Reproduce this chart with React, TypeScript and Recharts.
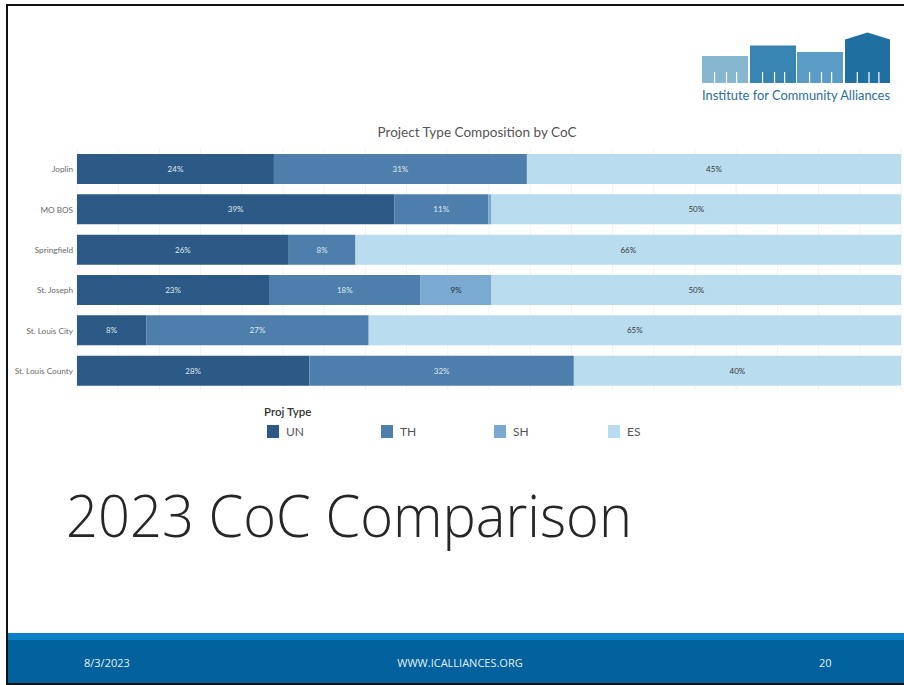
import React from "react";
import { BarChart, Bar, XAxis, YAxis, CartesianGrid, LabelList } from "recharts";

// Continuum of Care regions shown as rows
const COCS = ["Joplin", "MO BOS", "Springfield", "St. Joseph", "St. Louis City", "St. Louis County"];

// Share of projects by type (percent of each CoC's total)
const UN = [23.9, 38.5, 25.7, 23.3, 8.4, 28.2];
const TH = [30.7, 11.4, 8.1, 18.4, 27.0, 32.1];
const SH = [0, 0.4, 0, 8.6, 0, 0];
const ES = [45.4, 49.7, 66.2, 49.7, 64.6, 39.7];

const SERIES_KEYS = ["UN", "TH", "SH", "ES"];
const SERIES_COLORS = ["#2c5985", "#4e7fac", "#7aaad2", "#b9dcef"];
const LABEL_COLORS = ["#dfe7f0", "#dfe7f0", "#2a2a2a", "#3a3a3a"];

const GRID_TICKS = [0, 5, 10, 15, 20, 25, 30, 35, 40, 45, 50, 55, 60, 65, 70, 75, 80, 85, 90, 95, 100];

const data = COCS.map((coc, i) => ({ coc, UN: UN[i], TH: TH[i], SH: SH[i], ES: ES[i] }));

const chartFont = "Lato, 'Open Sans', sans-serif";

const makeLabel = (color: string) => (props: any) => {
  const { x, y, width, height, value } = props;
  if (!value || width < 14) return null;
  return (
    <text
      x={x + width / 2}
      y={y + height / 2}
      textAnchor="middle"
      dominantBaseline="central"
      fontSize={8}
      fontFamily={chartFont}
      fill={color}
    >
      {Math.round(value)}%
    </text>
  );
};

const CategoryTick = (props: any) => {
  const { y, payload } = props;
  return (
    <text x={73} y={y} textAnchor="end" dominantBaseline="central" fontSize={8.2} fontFamily={chartFont} fill="#6a6a6a">
      {payload.value}
    </text>
  );
};

// Logo buildings: [x, width, top, colour]
const BUILDINGS: [number, number, number, string][] = [
  [702, 46, 56, "#86b6d0"],
  [750, 46, 45.5, "#3784b2"],
  [797, 46, 52, "#5a9cc5"],
  [845, 45, 39.5, "#1f6fa1"],
];

function Logo() {
  return (
    <g>
      {BUILDINGS.map(([x, w, top, c], i) => (
        <g key={i}>
          {i === 3 ? (
            <polygon points={`${x},${top} ${x + w / 2},${32.5} ${x + w},${top} ${x + w},83 ${x},83`} fill={c} />
          ) : (
            <rect x={x} y={top} width={w} height={83 - top} fill={c} />
          )}
          {[0.26, 0.52, 0.74].map((f, j) => (
            <rect key={j} x={x + w * f} y={72} width={1.2} height={11} fill="#ffffff" />
          ))}
        </g>
      ))}
      <text
        x={702}
        y={100}
        fontSize={12.5}
        fontFamily="Lato, sans-serif"
        fill="#2b6e9c"
        textLength={188}
        lengthAdjust="spacingAndGlyphs"
      >
        Institute for Community Alliances
      </text>
    </g>
  );
}

function Legend() {
  const xs = [267, 381, 494, 608];
  return (
    <g fontFamily={chartFont}>
      <text x={264} y={416} fontSize={11.5} fill="#333" fontWeight={600}>
        Proj Type
      </text>
      {SERIES_KEYS.map((k, i) => (
        <g key={k}>
          <rect x={xs[i]} y={425} width={12} height={13} fill={SERIES_COLORS[i]} />
          <text x={xs[i] + 19} y={436} fontSize={12} fill="#555">
            {k}
          </text>
        </g>
      ))}
    </g>
  );
}

export default function App() {
  return (
    <div style={{ position: "absolute", left: 0, top: 0, width: 904, height: 685, background: "#fff", overflow: "hidden" }}>
      <svg width={904} height={685} style={{ position: "absolute", left: 0, top: 0 }}>
        {/* slide frame */}
        <rect x={6} y={4} width={904} height={2} fill="#111" />
        <rect x={6} y={4} width={2} height={685} fill="#111" />
        <Logo />
        <text x={477} y={137} textAnchor="middle" fontSize={12.5} fontFamily={chartFont} fill="#555" textLength={199} lengthAdjust="spacingAndGlyphs">
          Project Type Composition by CoC
        </text>
        <Legend />
        <text x={66} y={537} fontSize={58} fontWeight={300} fontFamily="'Open Sans', sans-serif" fill="#262626" textLength={566} lengthAdjust="spacingAndGlyphs">
          2023 CoC Comparison
        </text>
        {/* footer band */}
        <rect x={8} y={633} width={904} height={8} fill="#0a7fc4" />
        <rect x={8} y={640} width={904} height={43} fill="#00619c" />
        <rect x={6} y={683} width={904} height={2} fill="#111" />
        <g fontFamily="'Liberation Sans Narrow', 'Open Sans', sans-serif" fontSize={11} fill="#e6eef5">
          <text x={84} y={667}>8/3/2023</text>
          <text x={460} y={667} textAnchor="middle">WWW.ICALLIANCES.ORG</text>
          <text x={819} y={667}>20</text>
        </g>
      </svg>
      <div style={{ position: "absolute", left: 0, top: 0 }}>
        <BarChart
          width={904}
          height={400}
          data={data}
          layout="vertical"
          margin={{ top: 149, right: 3, bottom: 9, left: 0 }}
          barCategoryGap={5}
        >
          <CartesianGrid horizontal={false} stroke="#f2f2f2" />
          <XAxis type="number" domain={[0, 100]} ticks={GRID_TICKS} hide />
          <YAxis type="category" dataKey="coc" width={77} axisLine={false} tickLine={false} tick={<CategoryTick />} />
          {SERIES_KEYS.map((k, i) => (
            <Bar key={k} dataKey={k} stackId="a" fill={SERIES_COLORS[i]} barSize={30} isAnimationActive={false}>
              <LabelList dataKey={k} content={makeLabel(LABEL_COLORS[i])} />
            </Bar>
          ))}
        </BarChart>
      </div>
    </div>
  );
}
